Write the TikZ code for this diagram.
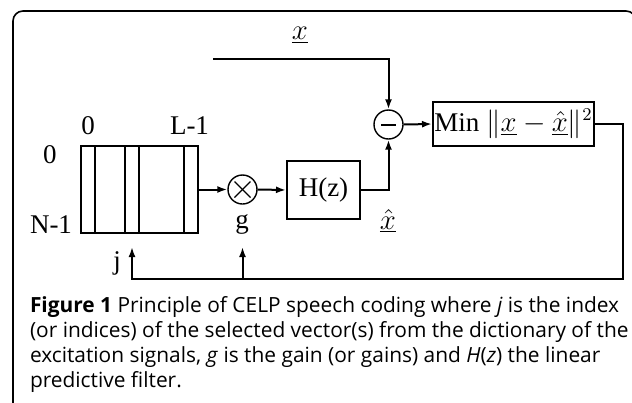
\documentclass[tikz,border=0pt]{standalone}
\usepackage{fontspec}
\setmainfont{Liberation Serif}
\newfontfamily\capfont{Open Sans}
\usetikzlibrary{arrows.meta}

\begin{document}
\begin{tikzpicture}[
  x=0.5pt, y=-0.5pt,
  line width=1pt,
  font=\fontsize{13.5}{16}\selectfont,
  >={Latex[length=5pt,width=3.5pt]},
  block/.style={rectangle, draw, line width=1pt, inner sep=0pt},
  op/.style={circle, draw, line width=0.7pt, minimum size=14.5pt, inner sep=0pt},
  capt/.style={anchor=north west, align=left, inner sep=0pt,
               font=\capfont\fontsize{10.45}{12.5}\selectfont}
]
\useasboundingbox (0,0) rectangle (632,402);
\clip (0,0) rectangle (632,402);
% frame
\draw[line width=0.8pt, rounded corners=5pt] (13,420) -- (13,11) -- (636,11) -- (636,420);
% codebook
\node[block, minimum width=58.5pt, minimum height=43.5pt] (book) at (139.5,189.5) {};
\foreach \cx in {95,125,139,184}
  \draw (\cx,146) -- (\cx,233);
% gain and subtraction
\node[op] (mult) at (242.5,189.5) {};
\draw[line width=0.7pt] ([shift={(-8,-8)}]mult.center) -- ([shift={(8,8)}]mult.center);
\draw[line width=0.7pt] ([shift={(-8,8)}]mult.center) -- ([shift={(8,-8)}]mult.center);
\node[op] (sub) at (388.5,124.5) {};
\draw ([shift={(-7.5,0)}]sub.center) -- ([shift={(7.5,0)}]sub.center);
% filter and error
\node[block, minimum width=36.5pt, minimum height=29pt] (filt) at (323.5,190) {H(z)};
\node[block, minimum width=80.5pt, minimum height=22pt] (err) at (513.5,124)
  {Min $\|\underline{x}-\underline{\hat{x}}\|^2$};
% free ends
\coordinate (xin) at (213,59);
\coordinate (fb) at (623,279);
\coordinate (jtip) at (132,247);
\coordinate (gtip) at (242.5,247);
% labels
\node (xlab) at (300,35) {$\underline{x}$};
\node[anchor=base] (col0) at (88,134) {0};
\node[anchor=base] (colL) at (189.5,134) {L-1};
\node[anchor=base] (row0) at (50,163) {0};
\node[anchor=base east, inner sep=0pt] (rowN) at (73,233) {N-1};
\node[anchor=base] (jlab) at (117,269) {j};
\node[anchor=base] (glab) at (242,228) {g};
\node (xhat) at (388,221) {$\underline{\hat{x}}$};
% connectors
\draw[->] (book.east) -- (mult.west);
\draw[->] (mult.east) -- (filt.west);
\draw[->] (filt.east) -| (sub.south);
\draw[->] (xin) -| (sub.north);
\draw[->] (sub.east) -- (err.west);
\draw[->] (err.east) -| (fb) -| (jtip);
\draw[->] (gtip |- fb) -- (gtip);
% caption
\node[capt] (cap) at (29,296) {\textbf{Figure 1} Principle of CELP speech coding where \textit{j} is the index\\
(or indices) of the selected vector(s) from the dictionary of the\\
excitation signals, \textit{g} is the gain (or gains) and \textit{H}(\textit{z}) the linear\\
predictive filter.};
\end{tikzpicture}
\end{document}
